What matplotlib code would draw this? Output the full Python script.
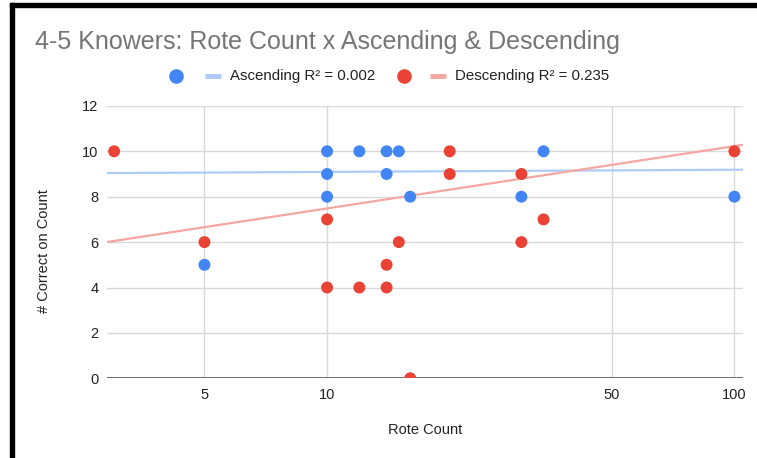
import numpy as np
import matplotlib
matplotlib.use("Agg")
import matplotlib.pyplot as plt
from matplotlib.lines import Line2D
from matplotlib.patches import Rectangle

plt.rcParams['font.family'] = ['Liberation Sans', 'DejaVu Sans']

# Ascending task: rote count vs. number correct
asc_rote = [5, 10, 10, 10, 12, 14, 14, 15, 16, 30, 34, 100]
asc_correct = [5, 10, 9, 8, 10, 10, 9, 10, 8, 8, 10, 8]

# Descending task: rote count vs. number correct
desc_rote = [3, 5, 10, 10, 12, 14, 14, 15, 16, 20, 20, 30, 30, 34, 100]
desc_correct = [10, 6, 7, 4, 4, 5, 4, 6, 0, 10, 9, 9, 6, 7, 10]

# Logarithmic trendlines: y = slope * log10(x) + intercept
asc_trend = [0.096, 8.996]
desc_trend = [2.744, 4.740]
asc_r2 = "0.002"
desc_r2 = "0.235"

x_ticks = [5, 10, 50, 100]
y_ticks = [0, 2, 4, 6, 8, 10, 12]

BLUE = '#4285F4'
RED = '#EA4335'
BLUE_LINE = '#AECBFA'
RED_LINE = '#F4A7A0'
TEXT = '#222222'

W, H = 757, 458
fig = plt.figure(figsize=(W / 100, H / 100), dpi=100)
fig.patch.set_facecolor('white')

def fx(px):
    return px / W

def fy(py):
    return 1 - py / H

left, right, top, bottom = 106.7, 743.5, 105.9, 378.3
ax = fig.add_axes([fx(left), fy(bottom), fx(right - left), (bottom - top) / H])
ax.set_xscale('log')
ax.set_xlim(2.877, 105.3)
ax.set_ylim(0, 12)

for s in ax.spines.values():
    s.set_visible(False)

ax.set_xticks(x_ticks)
ax.set_xticklabels([str(t) for t in x_ticks])
ax.xaxis.set_minor_locator(matplotlib.ticker.NullLocator())
ax.set_yticks(y_ticks)
ax.set_yticklabels([str(t) for t in y_ticks])
ax.tick_params(axis='both', length=0, labelsize=10.5, labelcolor=TEXT)
ax.tick_params(axis='y', pad=6)
ax.tick_params(axis='x', pad=7)
ax.grid(True, color='#d9d9d9', linewidth=1.0)
ax.set_axisbelow(True)
ax.axhline(0, color='#555555', linewidth=1.2, zorder=2)

# Trendlines across the full axis width
xs = np.logspace(np.log10(2.877), np.log10(105.3), 50)
ax.plot(xs, asc_trend[0] * np.log10(xs) + asc_trend[1], color=BLUE_LINE, lw=1.6, zorder=3)
ax.plot(xs, desc_trend[0] * np.log10(xs) + desc_trend[1], color=RED_LINE, lw=1.6, zorder=3)

ax.scatter(asc_rote, asc_correct, s=74, color=BLUE, edgecolors='none', zorder=4)
ax.scatter(desc_rote, desc_correct, s=74, color=RED, edgecolors='none', zorder=4)

ax.set_xlabel('Rote Count', fontsize=10.5, color=TEXT)
ax.xaxis.set_label_coords(0.5, (bottom - 430) / (bottom - top))
ax.set_ylabel('# Correct on Count', fontsize=10.5, color=TEXT)
ax.yaxis.set_label_coords((44 - left) / (right - left), (bottom - 251) / (bottom - top))
ax.xaxis.label.set_va('center')
ax.yaxis.label.set_va('center')

# Title
fig.text(fx(35), fy(42), '4-5 Knowers: Rote Count x Ascending & Descending',
         fontsize=18, color='#757575', ha='left', va='center')

# Legend
ly = fy(76)
for cx, lx0, tx, mc, lc, label in [
        (176, 205, 230, BLUE, BLUE_LINE, f'Ascending R\u00b2 = {asc_r2}'),
        (404, 430, 455, RED, RED_LINE, f'Descending R\u00b2 = {desc_r2}')]:
    fig.add_artist(Line2D([fx(cx)], [ly], marker='o', markersize=10.5, color=mc,
                          markeredgewidth=0, transform=fig.transFigure))
    fig.add_artist(Line2D([fx(lx0), fx(lx0 + 16)], [ly, ly], color=lc, lw=3.5,
                          solid_capstyle='butt', transform=fig.transFigure))
    fig.text(fx(tx), ly, label, fontsize=10.8, color=TEXT, ha='left', va='center')

# Frame edges
fig.add_artist(Rectangle((fx(10), 0), 4 / W, fy(3), color='black',
                         transform=fig.transFigure, zorder=10))
fig.add_artist(Rectangle((fx(10), fy(7)), 1 - fx(10), 4 / H, color='black',
                         transform=fig.transFigure, zorder=10))

fig.savefig('out.png', dpi=100)
